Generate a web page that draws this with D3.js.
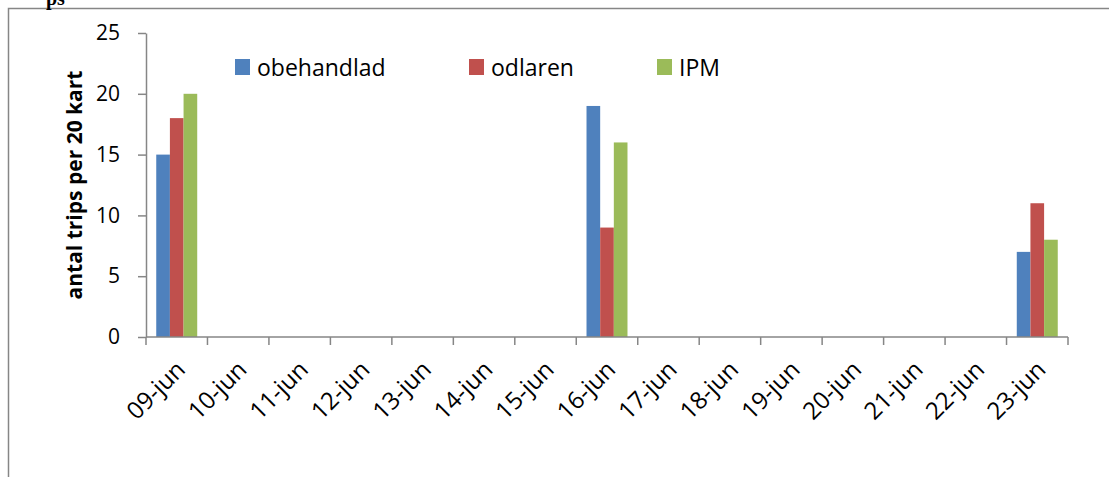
<!DOCTYPE html>
<html>
<head>
<meta charset="utf-8">
<script src="https://cdn.jsdelivr.net/npm/d3@7"></script>
<style>
  body { margin: 0; background: #fff; }
  svg { display: block; font-family: "Open Sans", sans-serif; }
</style>
</head>
<body>
<svg id="chart"></svg>
<script>
// data
const dates = ["09-jun", "10-jun", "11-jun", "12-jun", "13-jun", "14-jun", "15-jun",
  "16-jun", "17-jun", "18-jun", "19-jun", "20-jun", "21-jun", "22-jun", "23-jun"];
const series = ["obehandlad", "odlaren", "IPM"];
const obehandlad = [15, null, null, null, null, null, null, 19, null, null, null, null, null, null, 7];
const odlaren = [18, null, null, null, null, null, null, 9, null, null, null, null, null, null, 11];
const ipm = [20, null, null, null, null, null, null, 16, null, null, null, null, null, null, 8];
const yTicks = [0, 5, 10, 15, 20, 25];
const colors = ["#4F81BD", "#C0504D", "#9BBB59"];

const width = 1109, height = 477;
const marginLeft = 146, marginRight = 41, marginTop = 33, marginBottom = 140;
const axisColor = "#868686";

const values = [obehandlad, odlaren, ipm];
const rows = dates.map((d, i) => ({date: d, vals: series.map((s, j) => ({key: s, idx: j, v: values[j][i]}))}));

const svg = d3.select("#chart")
  .attr("width", width)
  .attr("height", height)
  .attr("viewBox", [0, 0, width, height]);

// outer frame (only top & left edges visible)
svg.append("path")
  .attr("d", `M8.5,${height}V8.5H${width}`)
  .attr("fill", "none")
  .attr("stroke", axisColor)
  .attr("stroke-width", 1.5);

// cut-off caption above the frame
svg.append("text")
  .attr("x", 46).attr("y", 5)
  .attr("font-family", "Liberation Serif, serif")
  .attr("font-weight", "bold")
  .attr("font-size", 20)
  .text("ps");

const x0 = d3.scaleBand(dates, [marginLeft, width - marginRight]).padding(0);
const bw = x0.bandwidth();
const x1 = d3.scaleBand(series, [bw / 6, bw * 5 / 6]).padding(0);
const y = d3.scaleLinear([0, 25], [height - marginBottom, marginTop]);

// bars
svg.append("g")
  .selectAll("g")
  .data(rows)
  .join("g")
  .attr("transform", d => `translate(${x0(d.date)},0)`)
  .selectAll("rect")
  .data(d => d.vals.filter(v => v.v != null))
  .join("rect")
  .attr("x", d => x1(d.key))
  .attr("y", d => y(d.v))
  .attr("width", x1.bandwidth())
  .attr("height", d => y(0) - y(d.v))
  .attr("fill", d => colors[d.idx]);

// y axis
const yAxis = d3.axisLeft(y).tickValues(yTicks).tickSize(8).tickPadding(18).tickSizeOuter(0);
svg.append("g")
  .attr("transform", `translate(${marginLeft},0)`)
  .call(yAxis)
  .call(g => g.select(".domain").attr("stroke", axisColor).attr("stroke-width", 1.5))
  .call(g => g.selectAll(".tick line").attr("stroke", axisColor).attr("stroke-width", 1.5))
  .call(g => g.selectAll(".tick text")
    .attr("font-family", "Open Sans, sans-serif")
    .attr("font-size", 21)
    .attr("fill", "#000"));

// x axis: ticks at band boundaries
const xg = svg.append("g")
  .attr("transform", `translate(0,${y(0)})`);
xg.append("line")
  .attr("x1", marginLeft).attr("x2", width - marginRight)
  .attr("stroke", axisColor).attr("stroke-width", 1.5);
const bounds = dates.map(d => x0(d)).concat([x0(dates[dates.length - 1]) + bw]);
xg.selectAll(".bt")
  .data(bounds)
  .join("line")
  .attr("x1", d => d).attr("x2", d => d)
  .attr("y1", 0).attr("y2", 8)
  .attr("stroke", axisColor).attr("stroke-width", 1.5);
xg.selectAll(".lbl")
  .data(dates)
  .join("text")
  .attr("transform", d => `translate(${x0(d) + bw / 2 + 10},${34}) rotate(-45)`)
  .attr("text-anchor", "end")
  .attr("font-size", 24)
  .attr("fill", "#000")
  .text(d => d);

// y label
svg.append("text")
  .attr("transform", `translate(82,${(y(0) + y(25)) / 2}) rotate(-90)`)
  .attr("text-anchor", "middle")
  .attr("font-weight", "bold")
  .attr("font-size", 21)
  .attr("fill", "#000")
  .text("antal trips per 20 kart");

// legend
const legendX = [235, 469, 657];
const lg = svg.append("g")
  .selectAll("g")
  .data(series)
  .join("g")
  .attr("transform", (d, i) => `translate(${legendX[i]},59)`);
lg.append("rect")
  .attr("width", 15).attr("height", 16)
  .attr("fill", (d, i) => colors[i]);
lg.append("text")
  .attr("x", 22).attr("y", 17)
  .attr("font-size", 23)
  .attr("fill", "#000")
  .text(d => d);
</script>
</body>
</html>
